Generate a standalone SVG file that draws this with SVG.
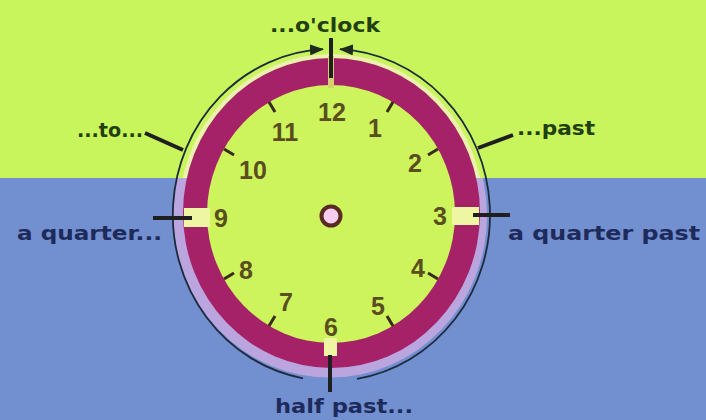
<svg xmlns="http://www.w3.org/2000/svg" width="706" height="420" viewBox="0 0 706 420">
  <defs>
    <style>
      .lbl { font-family: "DejaVu Sans", "Liberation Sans", sans-serif; font-weight: bold; font-size: 20px; }
      .top { fill: #22400f; }
      .bot { fill: #1d2a5a; }
      .num { font-family: "Liberation Sans", Arial, sans-serif; font-weight: bold; font-size: 25px; fill: #5a4d1e; text-anchor: middle; }
      .tick { stroke: #1f1f1f; stroke-width: 4; stroke-linecap: butt; }
      .htick { stroke: #3a2a18; stroke-width: 3; }
      .rim { fill: none; stroke: #1e2a3c; stroke-width: 1.8; }
    </style>
    <clipPath id="lowerHalf"><rect x="0" y="178" width="706" height="242"/></clipPath>
    <clipPath id="upperHalf"><rect x="0" y="0" width="706" height="178"/></clipPath>
    <marker id="ah" markerWidth="14" markerHeight="11" refX="13" refY="5.5" orient="auto-start-reverse" markerUnits="userSpaceOnUse">
      <path d="M0,0 L14,5.5 L0,11 Z" fill="#1e2a1c"/>
    </marker>
  </defs>

  <g id="background">
    <rect x="0" y="0" width="706" height="178" fill="#c8f45c"/>
    <rect x="0" y="178" width="706" height="242" fill="#728fd0"/>
  </g>

  <g id="clock">
    <ellipse cx="330" cy="215.5" rx="157" ry="162" fill="#bba5de" clip-path="url(#lowerHalf)"/>
    <ellipse cx="331.5" cy="213" rx="150.5" ry="157" fill="none" stroke="#eef0b2" stroke-width="4" clip-path="url(#upperHalf)"/>
    <ellipse cx="331.5" cy="213" rx="148.5" ry="155" fill="#a52168"/>
    <ellipse cx="331" cy="214" rx="124" ry="129" fill="#cdf45c"/>
    <!-- notches -->
    <rect x="184" y="208" width="26" height="19" fill="#eef6a4"/>
    <rect x="452" y="207" width="27" height="18" fill="#eef6a4"/>
    <rect x="324" y="338" width="13" height="18" fill="#eef6a4"/>
    <rect x="328" y="56" width="6" height="32" fill="#d8d070"/>
    <!-- hour ticks -->
    <g class="htick">
      <line x1="393" y1="102" x2="387" y2="112"/>
      <line x1="438" y1="149" x2="428" y2="155"/>
      <line x1="438" y1="279" x2="428" y2="273"/>
      <line x1="393" y1="326" x2="387" y2="316"/>
      <line x1="269" y1="326" x2="275" y2="316"/>
      <line x1="224" y1="279" x2="234" y2="273"/>
      <line x1="224" y1="149" x2="234" y2="155"/>
      <line x1="269" y1="102" x2="275" y2="112"/>
    </g>
    <!-- numbers -->
    <g class="num">
      <text x="332" y="121">12</text>
      <text x="375" y="137">1</text>
      <text x="415" y="172">2</text>
      <text x="440" y="225">3</text>
      <text x="418" y="277">4</text>
      <text x="378" y="315">5</text>
      <text x="331" y="336">6</text>
      <text x="286" y="311">7</text>
      <text x="246" y="279">8</text>
      <text x="221" y="227">9</text>
      <text x="253" y="179">10</text>
      <text x="285" y="141">11</text>
    </g>
    <!-- centre -->
    <circle cx="331" cy="216" r="9.5" fill="#f7cdef" stroke="#5a2a22" stroke-width="4"/>
  </g>

  <g id="connectors">
    <path class="rim" d="M323,49.2 A158.5,166 0 0 0 303,378.3" marker-start="url(#ah)"/>
    <path class="rim" d="M340,49.2 A158.5,166 0 0 1 357,378.8" marker-start="url(#ah)"/>
    <line class="tick" x1="331" y1="38" x2="331" y2="78"/>
    <line class="tick" x1="330" y1="355" x2="330" y2="392"/>
    <line class="tick" x1="153" y1="218" x2="192" y2="218"/>
    <line class="tick" x1="473" y1="215" x2="510" y2="215"/>
    <line class="tick" x1="145" y1="133" x2="183" y2="150"/>
    <line class="tick" x1="478" y1="148" x2="513" y2="135"/>
  </g>

  <g id="label-oclock"><text class="lbl top" x="270" y="32" textLength="110" lengthAdjust="spacingAndGlyphs">...o'clock</text></g>
  <g id="label-to"><text class="lbl top" x="77" y="137" textLength="66" lengthAdjust="spacingAndGlyphs">...to...</text></g>
  <g id="label-past"><text class="lbl top" x="517" y="135" textLength="78" lengthAdjust="spacingAndGlyphs">...past</text></g>
  <g id="label-quarter-to"><text class="lbl bot" x="17" y="240" textLength="145" lengthAdjust="spacingAndGlyphs">a quarter...</text></g>
  <g id="label-quarter-past"><text class="lbl bot" x="508" y="240" textLength="192" lengthAdjust="spacingAndGlyphs">a quarter past</text></g>
  <g id="label-half-past"><text class="lbl bot" x="275" y="413" textLength="138" lengthAdjust="spacingAndGlyphs">half past...</text></g>
</svg>
